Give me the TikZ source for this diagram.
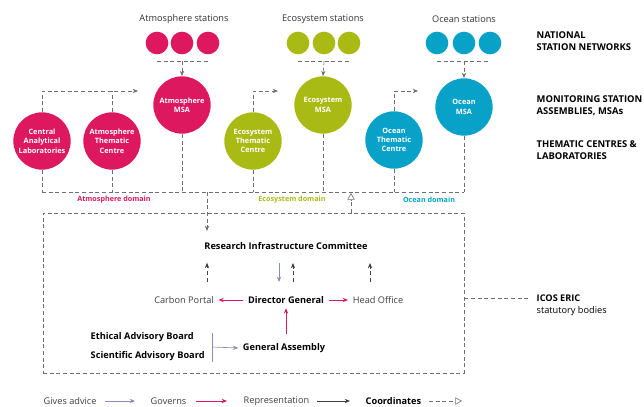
\documentclass[tikz,border=0pt]{standalone}
\usepackage{fontspec}
\setmainfont{Open Sans}
\usetikzlibrary{arrows.meta,calc}
\definecolor{atm}{RGB}{222,24,94}
\definecolor{eco}{RGB}{170,186,20}
\definecolor{oce}{RGB}{8,162,200}
\definecolor{lgray}{RGB}{110,110,110}
\definecolor{advice}{RGB}{140,140,185}
\tikzset{
  st/.style={circle,fill=#1,minimum size=17pt,inner sep=0pt},
  big/.style={circle,fill=#1,minimum size=43pt,inner sep=0pt,text=white,font=\fontsize{5.5}{7}\selectfont\bfseries,align=center},
  lbl/.style={font=\fontsize{6.9}{8}\selectfont,text=black!80},
  hdr/.style={font=\fontsize{7.05}{8.8}\selectfont\bfseries,align=left,anchor=west},
  dom/.style={font=\fontsize{5.4}{6}\selectfont\bfseries,text=#1},
  dline/.style={draw=lgray,densely dashed,line width=0.45pt},
  darr/.style={dline,-{Stealth[length=4pt,width=3.2pt]}},
  body/.style={font=\fontsize{6.9}{8}\selectfont\bfseries},
  plain/.style={font=\fontsize{6.9}{8}\selectfont,text=black!75},
  rep/.style={draw=black!75,line width=0.5pt,densely dashed,-{Stealth[length=4pt,width=3.2pt]}},
  gov/.style={draw=atm,line width=0.6pt,-{Stealth[length=4pt,width=3.2pt]}},
  adv/.style={draw=advice,line width=0.5pt,-{Stealth[length=4pt,width=3.2pt]}},
  coord/.style={draw=lgray,densely dashed,line width=0.45pt,-{Triangle[open,length=5pt,width=5.5pt]}}
}
\begin{document}
\begin{tikzpicture}[x=0.75pt,y=-0.75pt]
\useasboundingbox (0,0) rectangle (644,407);
% station labels
\node[lbl] (atmst) at (184,19) {Atmosphere stations};
\node[lbl] (ecost) at (323,19) {Ecosystem stations};
\node[lbl] (ocest) at (464,19) {Ocean stations};
% station circles
\node[st=atm] (a1) at (157,43) {};
\node[st=atm] (a2) at (182,43) {};
\node[st=atm] (a3) at (208,43) {};
\node[st=eco] (e1) at (298,43) {};
\node[st=eco] (e2) at (324,43) {};
\node[st=eco] (e3) at (349,43) {};
\node[st=oce] (o1) at (437,43) {};
\node[st=oce] (o2) at (464,43) {};
\node[st=oce] (o3) at (490,43) {};
% big circles
\node[big=atm] (amsa) at (182,105) {Atmosphere\\MSA};
\node[big=eco] (emsa) at (323,105) {Ecosystem\\MSA};
\node[big=oce] (omsa) at (464,107) {Ocean\\MSA};
\node[big=atm] (cal) at (42,141) {Central\\Analytical\\Laboratories};
\node[big=atm] (atc) at (112,141) {Atmosphere\\Thematic\\Centre};
\node[big=eco] (etc) at (253,141) {Ecosystem\\Thematic\\Centre};
\node[big=oce] (otc) at (394,140) {Ocean\\Thematic\\Centre};
% station bars
\coordinate (abar1) at (157,61); \coordinate (abar2) at (209,61);
\coordinate (ebar1) at (298,61); \coordinate (ebar2) at (350,61);
\coordinate (obar1) at (437,61); \coordinate (obar2) at (490,61);
\draw[dline] (abar1) -- (abar2);
\draw[dline] (ebar1) -- (ebar2);
\draw[dline] (obar1) -- (obar2);
\draw[darr] (a2 |- abar1) -- (amsa.north);
\draw[darr] (e2 |- ebar1) -- (emsa.north);
\draw[darr] (o2 |- obar1) -- (omsa.north);
% thematic to MSA
\coordinate (at) at (138,91);
\coordinate (et) at (278,91);
\coordinate (ot) at (418,91);
\draw[darr] (cal.north) |- (at);
\draw[dline] (atc.north) -- (atc.north |- at);
\draw[darr] (etc.north) |- (et);
\draw[darr] (otc.north) |- (ot);
% domain line
\coordinate (dl) at (42,192); \coordinate (dr) at (464,192);
\draw[dline] (dl) -- (dr);
\draw[dline] (cal.south) -- (cal.south |- dl);
\draw[dline] (atc.south) -- (atc.south |- dl);
\draw[dline] (amsa.south) -- (amsa.south |- dl);
\draw[dline] (etc.south) -- (etc.south |- dl);
\draw[dline] (emsa.south) -- (emsa.south |- dl);
\draw[dline] (otc.south) -- (otc.south |- dl);
\draw[dline] (omsa.south) -- (omsa.south |- dl);
\node[dom=atm] (adom) at (114,200) {Atmosphere domain};
\node[dom=eco] (edom) at (292,200) {Ecosystem domain};
\node[dom=oce] (odom) at (429,200) {Ocean domain};
% right headers
\node[hdr] (h1) at (532,41) {NATIONAL\\STATION NETWORKS};
\node[hdr] (h2) at (532,106) {MONITORING STATION\\ASSEMBLIES, MSAs};
\node[hdr] (h3) at (532,150) {THEMATIC CENTRES \&\\LABORATORIES};
% box
\node[dline,rectangle,minimum width=315.75pt,minimum height=120pt] (box) at (253.5,293) {};
% box content
\node[body] (ric) at (286,246) {Research Infrastructure Committee};
\node[plain] (cp) at (184,300) {Carbon Portal};
\node[body] (dg) at (286,300) {Director General};
\node[plain] (ho) at (378,300) {Head Office};
\node[body] (ga) at (284,348) {General Assembly};
\node[body,anchor=west] (eab) at (86,337) {Ethical Advisory Board};
\node[body,anchor=west] (sab) at (86,356) {Scientific Advisory Board};
% arrows in box
\coordinate (ricin) at (207,231);
\draw[darr] (207,192) -- (ricin);
\draw[rep] (cp.north -| 207,0) ++(0,-10) coordinate (cpt) -- ++(0,-19) coordinate (cpu);
\draw[adv] (279,263) coordinate (adv1) -- (279,282) coordinate (adv2);
\draw[rep] (293,282) coordinate (r1) -- (293,263) coordinate (r2);
\draw[rep] (370,282) coordinate (h1a) -- (370,263) coordinate (h1b);
\draw[gov] (dg.west) -- (cp.east);
\draw[gov] (dg.east) -- (ho.west);
\draw[gov] (ga.north -| dg) ++(0,-5) coordinate (gat) -- (dg.south);
\coordinate (bt) at (212,333); \coordinate (bb) at (212,362);
\draw[draw=advice,line width=0.5pt] (bt) -- (bb);
\draw[adv] (212,347) -- (ga.west);
% coordinates open arrow
\coordinate (boxtop) at (351,213);
\draw[coord] (boxtop) -- (351,193);
% ICOS
\node[anchor=west,align=left,font=\fontsize{6.9}{9}\selectfont] (icos) at (532,305) {\textbf{ICOS ERIC}\\statutory bodies};
\draw[dline] (box.east |- 0,298) -- (528,298);
% legend
\node[plain,anchor=west] (lg1) at (39,401) {Gives advice};
\draw[adv] (105,401) -- (135,401);
\node[plain,anchor=west] (lg2) at (146,401) {Governs};
\draw[gov] (196,401) -- (227,401);
\node[plain,anchor=west] (lg3) at (239,401) {Representation};
\draw[draw=black!75,line width=0.5pt,-{Stealth[length=4pt,width=3.2pt]}] (317,401) -- (350,401);
\node[body,anchor=west] (lg4) at (361,401) {Coordinates};
\draw[coord] (429,401) -- (462,401);
\end{tikzpicture}
\end{document}
